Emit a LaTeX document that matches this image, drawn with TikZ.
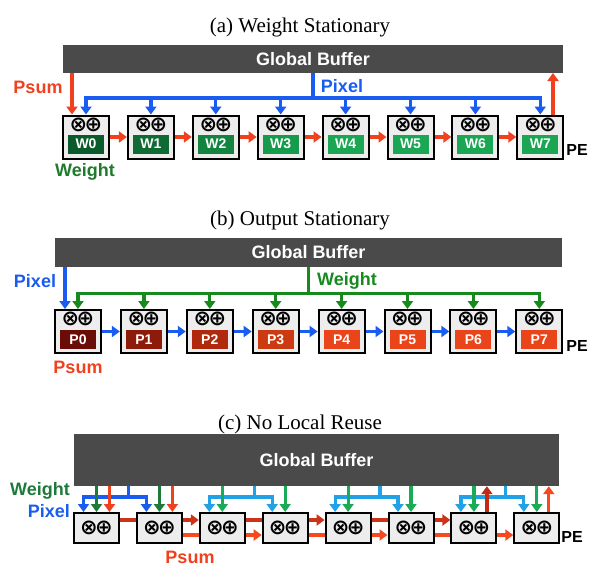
\documentclass[tikz,border=0pt]{standalone}
\usepackage{fontspec}
\setmainfont{Liberation Serif}
\setsansfont{Liberation Sans}
\newfontfamily\symfont{DejaVu Sans}
\usetikzlibrary{arrows.meta,calc}

\definecolor{bufgray}{HTML}{4A4A4A}
\definecolor{pegray}{HTML}{EDEDED}
\definecolor{myred}{HTML}{F0401E}
\definecolor{cup}{HTML}{CC3419}
\definecolor{clow}{HTML}{F44A1E}
\definecolor{darkred}{HTML}{C22A14}
\definecolor{myblue}{HTML}{1A5CF0}
\definecolor{skyblue}{HTML}{22A2E6}
\definecolor{mygreen}{HTML}{178A1E}
\definecolor{lblgreen}{HTML}{1E7A2C}
\definecolor{cgreen}{HTML}{1E7A3A}
\definecolor{cgreen2}{HTML}{1BAA55}
\definecolor{wg0}{HTML}{0B5A2B}
\definecolor{wg1}{HTML}{0E6B34}
\definecolor{wg2}{HTML}{12843F}
\definecolor{wg3}{HTML}{169A4B}
\definecolor{wg4}{HTML}{1AA653}
\definecolor{wg5}{HTML}{1AA653}
\definecolor{wg6}{HTML}{1AA653}
\definecolor{wg7}{HTML}{1AA653}
\definecolor{pr0}{HTML}{6A0D07}
\definecolor{pr1}{HTML}{8E1A0A}
\definecolor{pr2}{HTML}{B0290D}
\definecolor{pr3}{HTML}{CC3A12}
\definecolor{pr4}{HTML}{EA451A}
\definecolor{pr5}{HTML}{EA451A}
\definecolor{pr6}{HTML}{EA451A}
\definecolor{pr7}{HTML}{EA451A}

\newcommand{\opsyms}{⊗\kern-2.6pt⊕}

\tikzset{
  buffer/.style={fill=bufgray, text=white, font=\sffamily\bfseries\fontsize{18}{20}\selectfont, inner sep=0pt},
  pebox/.style={draw=black, fill=pegray, line width=2pt, inner sep=0pt, minimum width=46pt, minimum height=43pt},
  pecbox/.style={draw=black, fill=pegray, line width=2pt, inner sep=0pt, minimum width=45pt, minimum height=30pt},
  lbl/.style={text=white, font=\sffamily\bfseries\fontsize{14}{16}\selectfont, minimum width=36pt, minimum height=19pt, inner sep=0pt},
  syms/.style={font=\symfont\bfseries\fontsize{21}{21}\selectfont, inner sep=0pt},
  flow/.style={line width=3.2pt},
  arr/.style={flow, -{Triangle[length=8pt,width=11pt]}},
  lab/.style={font=\sffamily\bfseries\fontsize{18}{20}\selectfont, inner sep=0pt},
  pelab/.style={font=\sffamily\bfseries\fontsize{16}{18}\selectfont, inner sep=0pt},
  ttl/.style={font=\fontsize{21}{24}\selectfont, inner sep=0pt, anchor=base}
}

\begin{document}
\begin{tikzpicture}[x=1pt,y=-1pt]
\useasboundingbox (0,0) rectangle (600,571);

% ---------------- (a) Weight Stationary ----------------
\node[ttl] (tA) at (300,32) {(a) Weight Stationary};
\node[buffer, minimum width=500pt, minimum height=28pt] (bufA) at (313,59) {Global Buffer};
\foreach \i in {0,...,7} {
  \node[pebox] (pa\i) at ({86+64.9*\i},137) {};
  \node[syms] (sa\i) at ($(pa\i.center)+(0,-12)$) {\opsyms};
  \node[lbl, fill=wg\i] (wa\i) at ($(pa\i.center)+(0,7)$) {W\i};
}
\foreach \i/\j in {0/1,1/2,2/3,3/4,4/5,5/6,6/7}
  \draw[arr, myred] (pa\i.east) -- (pa\j.west);
\coordinate (busA) at (313,98);
\draw[flow, myblue] (bufA.south) -- (busA);
\draw[arr, myblue] (busA) -| (pa0.north);
\draw[arr, myblue] (busA) -| (pa7.north);
\foreach \i in {1,...,6}
  \draw[arr, myblue] (pa\i.north |- busA) -- (pa\i.north);
\coordinate (psA) at (72,73);
\draw[arr, myred] (psA) -- (psA |- pa0.north);
\coordinate (upA) at (553,73);
\draw[arr, myred] (upA |- pa7.north) -- (upA);
\node[lab, text=myred] (lpsA) at (38,87) {Psum};
\node[lab, text=myblue] (lpxA) at (342,86) {Pixel};
\node[lab, text=lblgreen] (lwA) at (85,172) {Weight};
\node[pelab] (lpeA) at (577,150) {PE};

% ---------------- (b) Output Stationary ----------------
\node[ttl] (tB) at (300,225) {(b) Output Stationary};
\node[buffer, minimum width=507pt, minimum height=29pt] (bufB) at (308.5,252.5) {Global Buffer};
\foreach \i in {0,...,7} {
  \node[pebox] (pb\i) at ({78+65.9*\i},331.5) {};
  \node[syms] (sb\i) at ($(pb\i.center)+(0,-12.5)$) {\opsyms};
  \node[lbl, fill=pr\i] (wb\i) at ($(pb\i.center)+(0,8)$) {P\i};
}
\foreach \i/\j in {0/1,1/2,2/3,3/4,4/5,5/6,6/7}
  \draw[arr, myblue] (pb\i.east) -- (pb\j.west);
\path (bufB.south) ++(0,26) coordinate (busB);
\draw[flow, mygreen] (bufB.south) -- (busB);
\draw[arr, mygreen] (busB) -| (pb0.north);
\draw[arr, mygreen] (busB) -| (pb7.north);
\foreach \i in {1,...,6}
  \draw[arr, mygreen] (pb\i.north |- busB) -- (pb\i.north);
\coordinate (pxB) at (65,267);
\draw[arr, myblue] (pxB) -- (pxB |- pb0.north);
\node[lab, text=myblue] (lpxB) at (35,281) {Pixel};
\node[lab, text=mygreen] (lwB) at (347,281) {Weight};
\node[lab, text=myred] (lpsB) at (78,367) {Psum};
\node[pelab] (lpeB) at (577,346) {PE};

% ---------------- (c) No Local Reuse ----------------
\node[ttl] (tC) at (300,429) {(c) No Local Reuse};
\node[buffer, minimum width=485pt, minimum height=52pt] (bufC) at (316.5,460) {Global Buffer};
\foreach \i in {0,...,7} {
  \node[pecbox] (pc\i) at ({96.5+62.9*\i},528) {};
  \node[syms] (sc\i) at (pc\i.center) {\opsyms};
}
% pixel buses
\foreach \k in {0,...,3} {
  \pgfmathtruncatemacro\ii{2*\k}
  \pgfmathtruncatemacro\jj{2*\k+1}
  \ifnum\k=0 \def\bcol{myblue}\else\def\bcol{skyblue}\fi
  \coordinate (bc\k) at ($(pc\jj.center)+(-31,-31)$);
  \coordinate (tl\k) at ($(pc\ii.north)+(-13,0)$);
  \coordinate (tr\k) at ($(pc\jj.north)+(-13,0)$);
  \draw[flow, \bcol] (bc\k |- bufC.south) -- (bc\k);
  \draw[arr, \bcol] (bc\k) -| (tl\k);
  \draw[arr, \bcol] (bc\k) -| (tr\k);
}
% weights
\foreach \i in {0,...,7} {
  \ifnum\i<2 \def\gcol{cgreen}\else\def\gcol{cgreen2}\fi
  \draw[arr, \gcol] (pc\i.north |- bufC.south) -- (pc\i.north);
}
% psum in / out
\foreach \i in {0,1} {
  \coordinate (rd\i) at ($(pc\i.north)+(13,0)$);
  \draw[arr, myred] (rd\i |- bufC.south) -- (rd\i);
}
\coordinate (ru6) at ($(pc6.north)+(13,0)$);
\draw[arr, darkred] (ru6) -- (ru6 |- bufC.south);
\coordinate (ru7) at ($(pc7.north)+(12,0)$);
\draw[arr, clow] (ru7) -- (ru7 |- bufC.south);
% psum between PEs
\foreach \i/\j in {0/1,2/3,4/5}
  \draw[flow, cup] ($(pc\i.east)+(0,-8)$) -- ($(pc\j.west)+(0,-8)$);
\foreach \i/\j in {1/2,3/4,5/6}
  \draw[arr, cup] ($(pc\i.east)+(0,-8)$) -- ($(pc\j.west)+(0,-8)$);
\foreach \i/\j in {1/2,3/4,5/6}
  \draw[flow, clow] ($(pc\i.east)+(0,7)$) -- ($(pc\j.west)+(0,7)$);
\foreach \i/\j in {2/3,4/5,6/7}
  \draw[arr, clow] ($(pc\i.east)+(0,7)$) -- ($(pc\j.west)+(0,7)$);
\node[lab, text=cgreen, anchor=east] (lwC) at (70,491) {Weight};
\node[lab, text=myblue, anchor=east] (lpxC) at (70,511) {Pixel};
\node[lab, text=myred] (lpsC) at (190,557) {Psum};
\node[pelab] (lpeC) at (572,537) {PE};
\end{tikzpicture}
\end{document}
